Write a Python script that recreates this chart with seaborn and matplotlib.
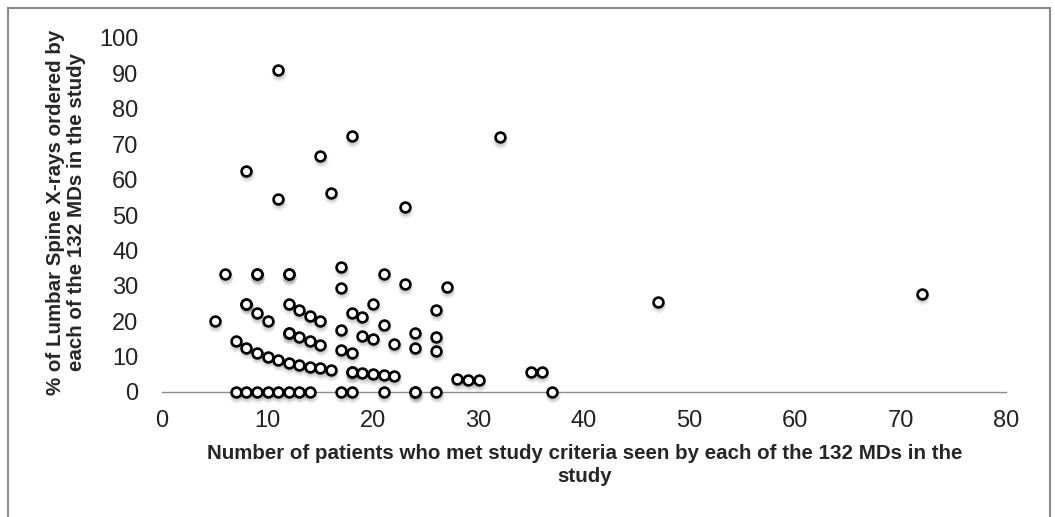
import matplotlib
matplotlib.use("Agg")
import matplotlib.pyplot as plt
import matplotlib.transforms as mtransforms
from matplotlib.patches import Rectangle
import seaborn as sns
import pandas as pd

# Patients seen per MD (x) and % of lumbar spine X-rays ordered (y)
patients = [11, 18, 32, 15, 8, 16, 11, 23,
            17, 6, 9, 9, 12, 12, 21, 23, 17, 27,
            72, 47,
            8, 8, 12, 20, 26, 13, 9, 18, 14, 19,
            5, 10, 15, 21, 17, 12, 12, 24, 13, 26, 19, 20,
            7, 14, 22, 15, 8, 24, 17, 26, 9, 18,
            10, 11, 12, 13, 14, 15, 16, 18, 18, 19, 20, 21, 22,
            35, 36, 28, 29, 30,
            7, 8, 9, 10, 11, 12, 13, 14, 17, 18, 21, 24, 24, 26, 37]
xray_pct = [90.9, 72.2, 71.9, 66.7, 62.5, 56.3, 54.5, 52.2,
            35.3, 33.3, 33.3, 33.3, 33.3, 33.3, 33.3, 30.4, 29.4, 29.6,
            27.8, 25.5,
            25.0, 25.0, 25.0, 25.0, 23.1, 23.1, 22.2, 22.2, 21.4, 21.1,
            20.0, 20.0, 20.0, 19.0, 17.6, 16.7, 16.7, 16.7, 15.4, 15.4, 15.8, 15.0,
            14.3, 14.3, 13.6, 13.3, 12.5, 12.5, 11.8, 11.5, 11.1, 11.1,
            10.0, 9.1, 8.3, 7.7, 7.1, 6.7, 6.3, 5.6, 5.6, 5.3, 5.0, 4.8, 4.5,
            5.7, 5.6, 3.6, 3.4, 3.3,
            0, 0, 0, 0, 0, 0, 0, 0, 0, 0, 0, 0, 0, 0, 0]

x_ticks = list(range(0, 81, 10))
y_ticks = list(range(0, 101, 10))

df = pd.DataFrame({"patients": patients, "pct": xray_pct})

sns.set_style("white")
plt.rcParams["font.family"] = ["Liberation Sans", "DejaVu Sans"]

fig = plt.figure(figsize=(10.55, 5.17), dpi=100)
ax = fig.add_axes([162 / 1055, 1 - 392 / 517, 844 / 1055, 354 / 517])

# soft drop shadow under each marker
for dx, dy, a, s in [(1, -4, 0.12, 110), (1, -3, 0.18, 75)]:
    sns.scatterplot(data=df, x="patients", y="pct", ax=ax, s=s, color="#555555",
                    alpha=a, edgecolor="none", legend=False, clip_on=False)
    ax.collections[-1].set_offset_transform(
        mtransforms.offset_copy(ax.transData, fig=fig, x=dx, y=dy, units="dots"))

sns.scatterplot(data=df, x="patients", y="pct", ax=ax, s=50, color="white",
                edgecolor="black", linewidth=1.9, legend=False, clip_on=False, zorder=3)

ax.set_xlim(0, 80)
ax.set_ylim(0, 100)
ax.set_xticks(x_ticks)
ax.set_yticks(y_ticks)
ax.tick_params(axis="both", length=0, labelsize=17, colors="#222222")
ax.tick_params(axis="x", pad=13)
ax.tick_params(axis="y", pad=17)
ax.set_xlabel("")
ax.set_ylabel("")
for side in ["top", "right", "left"]:
    ax.spines[side].set_visible(False)
ax.spines["bottom"].set_color("#8c8c8c")
ax.spines["bottom"].set_linewidth(1.0)
ax.spines["bottom"].set_zorder(1)

fig.text(585 / 1055, 1 - 465 / 517,
         "Number of patients who met study criteria seen by each of the 132 MDs in the\nstudy",
         ha="center", va="center", fontsize=14.8, fontweight="bold", linespacing=1.25,
         multialignment="center")
fig.text(66 / 1055, 1 - 212 / 517,
         "% of Lumbar Spine X-rays ordered by\neach of the 132 MDs in the study",
         ha="center", va="center", rotation=90, fontsize=14.8, fontweight="bold",
         linespacing=1.1, multialignment="center")

# light frame around the whole picture
fig.patches.append(Rectangle((8 / 1055, -0.02), 1042 / 1055, 1 - 8 / 517 + 0.02,
                             transform=fig.transFigure, fill=False,
                             edgecolor="#8a8a8a", linewidth=1.5))

fig.savefig("out.png", dpi=100)
